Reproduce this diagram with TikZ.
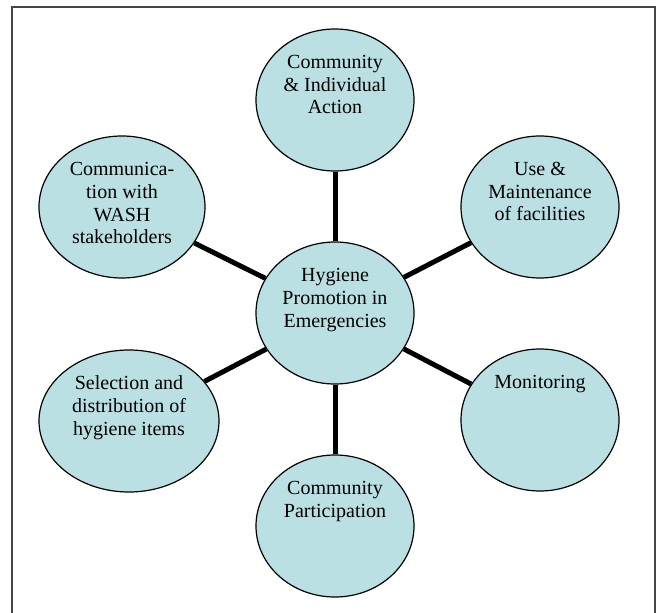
\documentclass[tikz,border=0pt]{standalone}
\usepackage{fontspec}
\setmainfont{Liberation Serif}
\usetikzlibrary{shapes.geometric}
\definecolor{bubble}{RGB}{186,224,227}
\definecolor{framegray}{RGB}{70,70,70}
\begin{document}
\begin{tikzpicture}[x=0.75pt,y=-0.75pt]
\tikzstyle{every node}+=[inner sep=0pt]
\tikzstyle{bub}=[ellipse,draw=black,line width=0.9pt,fill=bubble,minimum height=106.5pt]
\tikzstyle{lbl}=[anchor=north,align=center,font=\fontsize{15}{17}\selectfont,yshift=-18.1pt]
\tikzstyle{spoke}=[black,line width=3.75pt]
\useasboundingbox (0,0) rectangle (661,613);
\draw [framegray,line width=1.5pt] (12,640) -- (12,7) -- (655,7) -- (655,640);
\node [bub,minimum width=118.5pt] (hpe) at (335,313) {};
\node [bub,minimum width=118.5pt] (act) at (335,100) {};
\node [bub,minimum width=118.5pt] (part) at (335,526) {};
\node [bub,minimum width=124.5pt] (comm) at (122,207) {};
\node [bub,minimum width=118.5pt] (use) at (540,207) {};
\node [bub,minimum width=135pt] (sel) at (129,421) {};
\node [bub,minimum width=118.5pt] (mon) at (540,420) {};
\node [lbl] (hpe-t) at (hpe.north) {\strut Hygiene\\Promotion in\\Emergencies};
\node [lbl] (act-t) at (act.north) {\strut Community\\\& Individual\\Action};
\node [lbl] (part-t) at (part.north) {\strut Community\\Participation};
\node [lbl] (comm-t) at (comm.north) {\strut Communica-\\tion with\\WASH\\stakeholders};
\node [lbl] (use-t) at (use.north) {\strut Use \&\\Maintenance\\of facilities};
\node [lbl] (sel-t) at (sel.north) {\strut Selection and\\distribution of\\hygiene items};
\node [lbl] (mon-t) at (mon.north) {\strut Monitoring};
\draw [spoke] (hpe) -- (act);
\draw [spoke] (hpe) -- (part);
\draw [spoke] (hpe) -- (comm);
\draw [spoke] (hpe) -- (use);
\draw [spoke] (hpe) -- (sel);
\draw [spoke] (hpe) -- (mon);
\end{tikzpicture}
\end{document}
